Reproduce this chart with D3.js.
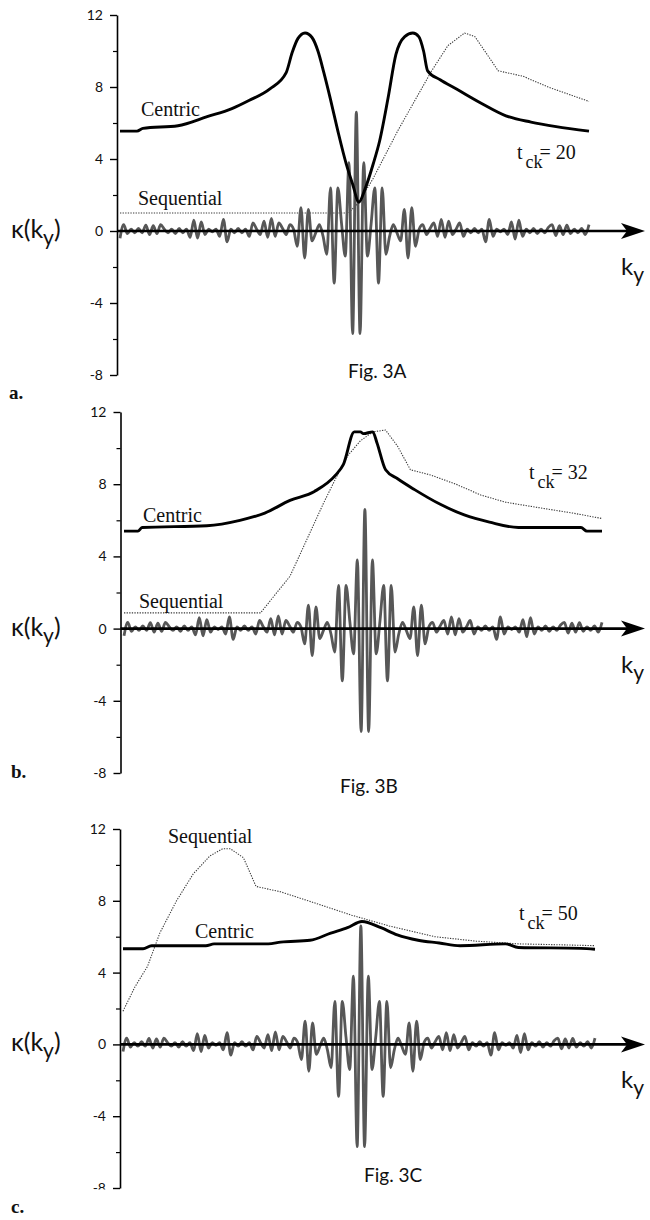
<!DOCTYPE html>
<html>
<head>
<meta charset="utf-8">
<script src="https://cdn.jsdelivr.net/npm/d3@7"></script>
<style>
    body { margin: 0; background: #fff; }
    .tick text { font-family: Lato, "Open Sans", sans-serif; font-size: 14px; fill: #111; }
    .serifLabel { font-family: "Liberation Serif", "DejaVu Serif", serif; font-size: 20px; fill: #111; }
    .sansLabel { font-family: Lato, "Open Sans", sans-serif; fill: #111; }
    .panelLetter { font-family: "Liberation Serif", serif; font-weight: bold; font-size: 19px; fill: #111; }
</style>
</head>
<body>
<script>
(function(){

    //sample index along k_y (128 samples, centre at 0)
    var kIndex = d3.range(-64, 64);

    //kernel kappa(k_y), same in all three panels, read sample by sample
    var kernel = [
        -0.4, 0.35, -0.15, 0.1, -0.1, 0.15, -0.1, 0.33, -0.2, 0.3, -0.15, 0.35, 0.1, -0.1, 0.1, -0.15,
        0.15, -0.1, 0.1, -0.35, 0.6, -0.4, 0.5, -0.2, 0.1, -0.05, 0.1, -0.3, 0.65, -0.6, 0.1, -0.1,
        0.15, -0.1, 0.1, -0.3, 0.45, 0.1, -0.2, 0.55, -0.35, 0.7, -0.3, 0.45, 0.15, -0.2, 0.35, 0.1,
        -0.85, 1.3, -1.5, 1.2, -0.55, -0.1, 0.35, -0.3, -1.3, 2.4, -2.9, 2.4, 0.4, -1.4, 3.8, -5.7,
        6.6,
        -5.7, 3.8, -1.4, 0.4, 2.4, -2.9, 2.4, -1.3, -0.3, 0.35, -0.1, -0.55, 1.2, -1.5, 1.3, -0.85,
        0.1, 0.35, -0.2, 0.15, 0.45, -0.3, 0.65, -0.35, 0.55, -0.2, 0.1, 0.45, -0.3, 0.1, -0.1, 0.15,
        -0.1, 0.1, -0.6, 0.65, -0.3, 0.1, -0.05, 0.1, -0.2, 0.5, -0.45, 0.6, -0.3, 0.1, -0.1, 0.15,
        -0.15, 0.1, -0.1, 0.2, 0.35, -0.25, 0.3, -0.2, 0.33, -0.15, 0.1, -0.1, 0.15, -0.2, 0.35
    ];

    //Fig. 3A, t_ck = 20
    var centricKA = [-64, -59.4, -57.8, -48.3, -40.4, -33.7, -29.1, -23.4, -19, -17.4, -15.8, -13.9, -12, -10.4, -8.8, -7.1, -5, -2.7, -1, 0.7, 2.3, 4.6, 6.3, 8.6, 10.7, 13.1, 15.3, 16.9, 18.2, 19.3, 22.7, 27, 33.8, 40.5, 47.3, 54.1, 63];
    var centricA  = [5.55, 5.55, 5.7, 5.85, 6.35, 6.8, 7.25, 7.9, 8.8, 9.9, 10.7, 11.0, 10.75, 10.0, 8.8, 7.4, 5.55, 3.7, 2.6, 1.6, 2.3, 3.75, 5.0, 7.4, 9.8, 10.8, 11.0, 10.8, 10.0, 8.9, 8.4, 7.9, 7.1, 6.4, 6.05, 5.8, 5.55];
    var seqKA = [-64, -2.1, 0.7, 4.5, 11.3, 20.4, 24.8, 29.3, 32.1, 36.1, 38.4, 45.1, 51.9, 63];
    var seqA  = [1.0, 1.0, 1.6, 2.9, 5.6, 8.9, 10.3, 11.0, 10.8, 9.6, 8.9, 8.6, 8.0, 7.2];

    //Fig. 3B, t_ck = 32
    var centricKB = [-64, -60.3, -59.2, -42, -33.2, -26.6, -19.9, -13.4, -7.8, -5.7, -2.8, -1.2, -0.4, 2.1, 3.2, 5.5, 8.7, 13.2, 19.9, 26.4, 33.1, 40.8, 57.4, 59, 63];
    var centricB  = [5.4, 5.4, 5.6, 5.7, 6.0, 6.4, 7.1, 7.6, 8.5, 9.1, 10.9, 10.9, 10.8, 10.9, 10.3, 8.8, 8.3, 7.7, 6.9, 6.3, 5.9, 5.6, 5.6, 5.4, 5.4];
    var seqKB = [-64, -27.7, -25.5, -19.9, -15.5, -11.1, -7.8, -4.5, -1.2, 2.1, 5.5, 8.7, 12.1, 17.6, 24.2, 30.8, 37.4, 46.2, 55.2, 63];
    var seqB  = [0.87, 0.87, 1.45, 2.9, 4.9, 6.9, 8.3, 9.6, 10.4, 10.9, 11.0, 10.1, 8.8, 8.5, 8.0, 7.4, 7.0, 6.7, 6.4, 6.1];

    //Fig. 3C, t_ck = 50
    var centricKC = [-64, -58.6, -56.3, -41.7, -39.5, -24.9, -21.6, -13.7, -8.1, -3.6, 0.3, 5.4, 9.8, 15.4, 21.1, 26.7, 38.9, 42.4, 59.2, 63];
    var centricC  = [5.33, 5.33, 5.5, 5.5, 5.6, 5.6, 5.7, 5.8, 6.2, 6.5, 6.85, 6.5, 6.1, 5.8, 5.65, 5.5, 5.6, 5.4, 5.35, 5.3];
    var seqKC = [-64, -60.8, -57.4, -54.1, -49.6, -45.1, -40.6, -37.2, -35.1, -31.6, -28.2, -21.6, -12.7, -2.5, 7.6, 19.9, 31.1, 42.4, 53.5, 63];
    var seqC  = [1.85, 3.2, 4.35, 6.2, 8.0, 9.5, 10.5, 10.9, 10.9, 10.4, 8.8, 8.5, 7.9, 7.2, 6.6, 6.0, 5.75, 5.6, 5.55, 5.5];

    //axis ticks
    var majorTicks = [12, 8, 4, 0, -4, -8];
    var minorTicks = [10, 6, 2, -2, -6];

    //panel layout (pixels) and labels
    var panels = [
        {id: "A", letter: "a.", fig: "Fig. 3A", tck: "20", top: 15, bottom: 375, axisX: 117, x0: 120, x1: 589,
         ck: centricKA, cv: centricA, sk: seqKA, sv: seqA,
         centricLbl: [141, 6.4], seqLbl: [138, 1.45], tckLbl: [517, 4.0], figLbl: [348, 378], letterLbl: [9, 399]},
        {id: "B", letter: "b.", fig: "Fig. 3B", tck: "32", top: 412, bottom: 773, axisX: 120.5, x0: 124, x1: 602,
         ck: centricKB, cv: centricB, sk: seqKB, sv: seqB,
         centricLbl: [143, 5.9], seqLbl: [139, 1.15], tckLbl: [529, 8.3], figLbl: [340, 793], letterLbl: [11, 778]},
        {id: "C", letter: "c.", fig: "Fig. 3C", tck: "50", top: 829, bottom: 1188, axisX: 120, x0: 123, x1: 595,
         ck: centricKC, cv: centricC, sk: seqKC, sv: seqC,
         centricLbl: [195, 5.95], seqLbl: [168, 11.2], tckLbl: [519, 6.95], figLbl: [364, 1182], letterLbl: [11, 1213],
         cutBottom: true}
    ];

    var width = 650,
        height = 1220;

    var svg = d3.select("body")
        .append("svg")
        .attr("width", width)
        .attr("height", height);

    panels.forEach(function(p){
        drawPanel(svg, p);
    });

    function drawPanel(svg, p){
        var g = svg.append("g");

        var x = d3.scaleLinear().domain([-64, 63]).range([p.x0, p.x1]);
        var y = d3.scaleLinear().domain([-8, 12]).range([p.bottom, p.top]);

        //y axis, major ticks with labels
        var yAxis = g.append("g")
            .attr("transform", "translate(" + p.axisX + ",0)")
            .call(d3.axisLeft(y).tickValues(majorTicks).tickSize(7).tickSizeOuter(0).tickPadding(7)
                .tickFormat(function(d){ return d < 0 ? "-" + Math.abs(d) : d; }))
            .call(function(a){
                a.select(".domain").attr("stroke-width", 1.6);
                a.selectAll(".tick line").attr("stroke-width", 1.4);
            });

        //bottom label of the last panel is cut off in the scan (clip in the tick's own space)
        if (p.cutBottom){
            svg.append("clipPath").attr("id", "cut" + p.id)
                .append("rect")
                .attr("x", -40).attr("y", -12)
                .attr("width", 40).attr("height", 13);
            yAxis.selectAll(".tick text")
                .filter(function(d){ return d === -8; })
                .attr("clip-path", "url(#cut" + p.id + ")");
        }

        //minor ticks
        g.append("g")
            .attr("transform", "translate(" + p.axisX + ",0)")
            .call(d3.axisLeft(y).tickValues(minorTicks).tickSize(4).tickSizeOuter(0).tickFormat(""))
            .call(function(a){
                a.select(".domain").remove();
                a.selectAll(".tick line").attr("stroke-width", 1.2);
            });

        //sequential (thin dotted grey)
        var seqLine = d3.line()
            .x(function(d){ return x(d[0]); })
            .y(function(d){ return y(d[1]); });

        g.append("path")
            .datum(d3.zip(p.sk, p.sv))
            .attr("fill", "none")
            .attr("stroke", "#3a3a3a")
            .attr("stroke-width", 1.1)
            .attr("stroke-dasharray", "1.3,1.3")
            .attr("d", seqLine);

        //kernel (thick halftone grey)
        var kLine = d3.line()
            .curve(d3.curveMonotoneX)
            .x(function(d){ return x(d[0]); })
            .y(function(d){ return y(d[1]); });

        g.append("path")
            .datum(d3.zip(kIndex, kernel))
            .attr("fill", "none")
            .attr("stroke", "#575757")
            .attr("stroke-width", 2.8)
            .attr("stroke-linejoin", "round")
            .attr("d", kLine);

        //k_y axis with arrow
        var y0 = y(0),
            tip = 645;
        g.append("line")
            .attr("x1", p.axisX).attr("x2", tip - 8)
            .attr("y1", y0).attr("y2", y0)
            .attr("stroke", "#000")
            .attr("stroke-width", 2.6);
        g.append("path")
            .attr("d", "M" + tip + "," + y0 + "L" + (tip - 24) + "," + (y0 - 8) +
                "L" + (tip - 18) + "," + y0 + "L" + (tip - 24) + "," + (y0 + 8) + "Z")
            .attr("fill", "#000");

        //centric (thick black)
        var cLine = d3.line()
            .curve(d3.curveMonotoneX)
            .x(function(d){ return x(d[0]); })
            .y(function(d){ return y(d[1]); });

        g.append("path")
            .datum(d3.zip(p.ck, p.cv))
            .attr("fill", "none")
            .attr("stroke", "#000")
            .attr("stroke-width", 2.9)
            .attr("stroke-linejoin", "round")
            .attr("d", cLine);

        //curve labels
        g.append("text").attr("class", "serifLabel")
            .attr("x", p.centricLbl[0]).attr("y", y(p.centricLbl[1]))
            .text("Centric");
        g.append("text").attr("class", "serifLabel")
            .attr("x", p.seqLbl[0]).attr("y", y(p.seqLbl[1]))
            .text("Sequential");

        var t = g.append("text").attr("class", "serifLabel")
            .attr("x", p.tckLbl[0]).attr("y", y(p.tckLbl[1]));
        t.append("tspan").text("t");
        t.append("tspan").attr("dx", 3).attr("dy", 9).attr("font-size", 18).text("ck");
        t.append("tspan").attr("dx", -3).attr("dy", -9).text("= " + p.tck);

        //kappa(k_y) label
        var kl = g.append("text").attr("class", "sansLabel")
            .attr("x", 11).attr("y", y0 + 7)
            .attr("font-size", 25);
        kl.append("tspan").text("\u03BA(k");
        kl.append("tspan").attr("dy", 7).attr("font-size", 21).text("y");
        kl.append("tspan").attr("dy", -7).text(")");

        //k_y label
        var ky = g.append("text").attr("class", "sansLabel")
            .attr("x", 621).attr("y", y0 + 44)
            .attr("font-size", 24);
        ky.append("tspan").text("k");
        ky.append("tspan").attr("dy", 7).attr("font-size", 21).text("y");

        //figure caption and panel letter
        g.append("text").attr("class", "sansLabel")
            .attr("x", p.figLbl[0]).attr("y", p.figLbl[1])
            .attr("font-size", 19)
            .text(p.fig);
        g.append("text").attr("class", "panelLetter")
            .attr("x", p.letterLbl[0]).attr("y", p.letterLbl[1])
            .text(p.letter);
    };

})();
</script>
</body>
</html>
